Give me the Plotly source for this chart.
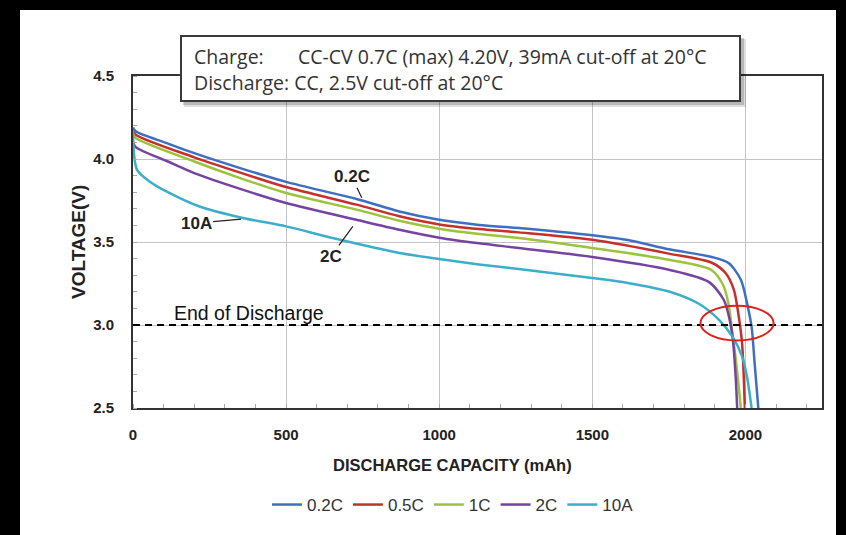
import plotly.graph_objects as go

# ---------------- data ----------------
cap_02c = [0, 10, 110, 200, 350, 500, 730, 870, 1000, 1130, 1260, 1500, 1620, 1750, 1890, 1945, 1985, 2005, 2020, 2030, 2042]
v_02c   = [4.19, 4.165, 4.096, 4.035, 3.945, 3.862, 3.759, 3.684, 3.634, 3.603, 3.584, 3.540, 3.510, 3.456, 3.410, 3.373, 3.273, 3.133, 2.990, 2.770, 2.500]

cap_05c = [0, 10, 200, 350, 500, 730, 870, 1000, 1130, 1260, 1500, 1750, 1890, 1935, 1962, 1978, 1989, 1998]
v_05c   = [4.17, 4.145, 4.010, 3.918, 3.831, 3.725, 3.655, 3.606, 3.578, 3.558, 3.513, 3.430, 3.375, 3.313, 3.213, 3.053, 2.890, 2.500]

cap_1c = [0, 10, 200, 350, 500, 730, 870, 1000, 1130, 1260, 1500, 1750, 1890, 1929, 1946, 1956, 1968, 1985]
v_1c   = [4.15, 4.125, 3.985, 3.885, 3.795, 3.695, 3.628, 3.580, 3.548, 3.524, 3.464, 3.393, 3.330, 3.233, 3.112, 2.972, 2.800, 2.500]

cap_2c = [0, 10, 110, 200, 350, 500, 730, 870, 1000, 1130, 1260, 1500, 1750, 1880, 1929, 1946, 1959, 1968, 1973]
v_2c   = [4.10, 4.07, 3.988, 3.915, 3.820, 3.735, 3.634, 3.574, 3.526, 3.492, 3.464, 3.410, 3.333, 3.260, 3.152, 3.052, 2.911, 2.690, 2.500]

cap_10a = [0, 13, 54, 109, 217, 359, 500, 652, 870, 1000, 1130, 1260, 1500, 1620, 1750, 1848, 1913, 1957, 1989, 2005, 2020]
v_10a   = [4.17, 3.936, 3.865, 3.805, 3.714, 3.645, 3.594, 3.524, 3.434, 3.398, 3.365, 3.337, 3.283, 3.252, 3.202, 3.128, 3.032, 2.931, 2.811, 2.690, 2.500]

series_names = ["0.2C", "0.5C", "1C", "2C", "10A"]
series_colors = ["#3E6FC1", "#C4302B", "#9DC23B", "#7543A0", "#3BAFC8"]

x_ticks = [0, 500, 1000, 1500, 2000]
y_ticks = [2.5, 3.0, 3.5, 4.0, 4.5]
end_of_discharge_v = 3.0

# ---------------- figure ----------------
fig = go.Figure()
caps = [cap_02c, cap_05c, cap_1c, cap_2c, cap_10a]
volts = [v_02c, v_05c, v_1c, v_2c, v_10a]
for name, col, xs, ys in zip(series_names, series_colors, caps, volts):
    fig.add_trace(go.Scatter(
        x=xs, y=ys, name=name, mode="lines",
        line=dict(color=col, width=2.5, shape="spline", smoothing=0.8),
    ))

W, H = 846, 535
L, R, T, B = 133, 24, 76, 127
pw, ph = W - L - R, H - T - B

def px(x):
    return (x - L) / pw

def py(y):
    return (H - B - y) / ph

shapes = []
# black frame around the picture
shapes.append(dict(type="rect", xref="paper", yref="paper", x0=px(20), x1=px(836), y0=py(540), y1=py(10),
                   fillcolor="white", line=dict(width=0), layer="below"))
# end of discharge line
shapes.append(dict(type="line", xref="paper", yref="y", x0=0, x1=1, y0=end_of_discharge_v, y1=end_of_discharge_v,
                   line=dict(color="black", width=2, dash="7px,5px"), layer="above"))
# red ellipse
shapes.append(dict(type="circle", xref="x", yref="y", x0=1853, x1=2092, y0=2.907, y1=3.116,
                   line=dict(color="#E0201E", width=2), layer="above"))
# info box shadow + box
shapes.append(dict(type="rect", xref="paper", yref="paper", x0=px(184), x1=px(746), y0=py(107), y1=py(39),
                   fillcolor="rgba(0,0,0,0.12)", line=dict(width=0), layer="above"))
shapes.append(dict(type="rect", xref="paper", yref="paper", x0=px(183), x1=px(744), y0=py(105), y1=py(38),
                   fillcolor="rgba(0,0,0,0.18)", line=dict(width=0), layer="above"))
shapes.append(dict(type="rect", xref="paper", yref="paper", x0=px(181), x1=px(740), y0=py(101), y1=py(36),
                   fillcolor="white", line=dict(color="#3a3a3a", width=2), layer="above"))

box_font = dict(family="Open Sans", size=19.5, color="#333333")
lab_font = dict(family="Liberation Sans", size=17, color="#222222", weight=700)
annotations = [
    dict(xref="paper", yref="paper", x=px(192), y=py(57), text="Charge:", showarrow=False,
         xanchor="left", yanchor="middle", font=box_font),
    dict(xref="paper", yref="paper", x=px(296), y=py(57), text="CC-CV 0.7C (max) 4.20V, 39mA cut-off at 20°C",
         showarrow=False, xanchor="left", yanchor="middle", font=box_font),
    dict(xref="paper", yref="paper", x=px(192), y=py(82), text="Discharge: CC, 2.5V cut-off at 20°C",
         showarrow=False, xanchor="left", yanchor="middle", font=box_font),
    dict(xref="paper", yref="paper", x=px(172), y=py(313), text="End of Discharge", showarrow=False,
         xanchor="left", yanchor="middle", font=dict(family="Liberation Sans", size=19.5, color="#111111")),
    dict(x=747, y=3.767, text="0.2C", showarrow=True, arrowhead=0, arrowwidth=1.2, arrowcolor="#222",
         ax=-10, ay=-21, font=lab_font, standoff=0),
    dict(x=718, y=3.594, text="2C", showarrow=True, arrowhead=0, arrowwidth=1.2, arrowcolor="#222",
         ax=-22, ay=30, font=lab_font, standoff=0),
    dict(x=353, y=3.638, text="10A", showarrow=True, arrowhead=0, arrowwidth=1.2, arrowcolor="#222",
         ax=-45, ay=4, font=lab_font, standoff=0),
    dict(xref="paper", yref="paper", x=px(452), y=py(465), text="DISCHARGE CAPACITY (mAh)", showarrow=False,
         xanchor="center", yanchor="middle",
         font=dict(family="Liberation Sans", size=16.5, color="#222222", weight=700)),
    dict(xref="paper", yref="paper", x=px(78), y=py(242), text="VOLTAGE(V)", showarrow=False, textangle=-90,
         xanchor="center", yanchor="middle",
         font=dict(family="Liberation Sans", size=19, color="#222222", weight=700)),
]

tick_font = dict(family="Liberation Sans", size=15, color="#222222", weight=700)
fig.update_layout(
    width=W, height=H,
    margin=dict(l=L, r=R, t=T, b=B, pad=0),
    paper_bgcolor="black", plot_bgcolor="white",
    shapes=shapes, annotations=annotations,
    showlegend=True,
    legend=dict(orientation="h", x=px(453), xanchor="center", y=py(505), yanchor="middle",
                font=dict(family="Liberation Sans", size=17, color="#333333"),
                bgcolor="rgba(0,0,0,0)", itemwidth=30, tracegroupgap=0),
    xaxis=dict(range=[0, 2250], tickvals=x_ticks, showgrid=True, gridcolor="#c4c4c4", gridwidth=1,
               showline=True, linecolor="#333333", linewidth=2, mirror=True, zeroline=False,
               ticks="", tickfont=tick_font, ticklabelstandoff=12,
               minor=dict(ticks="inside", ticklen=4, dtick=100, tickcolor="#aaaaaa", showgrid=False)),
    yaxis=dict(range=[2.5, 4.5], tickvals=y_ticks, tickformat=".1f", showgrid=True, gridcolor="#c4c4c4",
               gridwidth=1, showline=True, linecolor="#333333", linewidth=2, mirror=True, zeroline=False,
               ticks="", tickfont=tick_font, ticklabelstandoff=14,
               minor=dict(ticks="inside", ticklen=4, dtick=0.1, tickcolor="#aaaaaa", showgrid=False)),
)

fig.write_html("out.html", config={"displayModeBar": False},
               post_script="document.body.style.margin='0';document.body.style.background='black';")
